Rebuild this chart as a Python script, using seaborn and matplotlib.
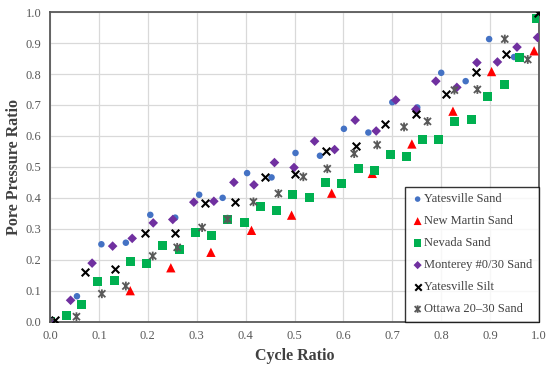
import numpy as np
import matplotlib.pyplot as plt
import seaborn as sns
from matplotlib.path import Path

# Yatesville Sand
ys_x = [0.0, 0.055, 0.105, 0.155, 0.205, 0.256, 0.305, 0.353, 0.403, 0.453,
        0.502, 0.552, 0.601, 0.651, 0.70, 0.751, 0.80, 0.85, 0.898, 0.949]
ys_y = [0.0, 0.082, 0.25, 0.255, 0.345, 0.336, 0.41, 0.40, 0.48, 0.466,
        0.545, 0.536, 0.623, 0.611, 0.709, 0.692, 0.804, 0.777, 0.913, 0.855]

# New Martin Sand
nm_x = [0.0, 0.164, 0.247, 0.329, 0.412, 0.494, 0.576, 0.659, 0.74, 0.824, 0.903, 0.99]
nm_y = [0.0, 0.10, 0.174, 0.224, 0.295, 0.344, 0.415, 0.479, 0.574, 0.68, 0.808, 0.875]

# Nevada Sand
nv_x = [0.0, 0.033, 0.064, 0.097, 0.131, 0.165, 0.198, 0.230, 0.264, 0.297, 0.330,
        0.363, 0.397, 0.431, 0.464, 0.496, 0.530, 0.563, 0.596, 0.63, 0.663,
        0.697, 0.728, 0.761, 0.795, 0.828, 0.862, 0.895, 0.929, 0.96, 0.995]
nv_y = [0.0, 0.021, 0.055, 0.131, 0.134, 0.195, 0.189, 0.245, 0.233, 0.289, 0.278,
        0.331, 0.320, 0.373, 0.358, 0.412, 0.40, 0.45, 0.445, 0.495, 0.487,
        0.54, 0.535, 0.587, 0.59, 0.647, 0.654, 0.726, 0.767, 0.852, 0.98]

# Monterey #0/30 Sand
mo_x = [0.0, 0.042, 0.086, 0.128, 0.168, 0.211, 0.251, 0.294, 0.335, 0.376, 0.417,
        0.459, 0.499, 0.541, 0.582, 0.624, 0.667, 0.707, 0.748, 0.789, 0.832,
        0.873, 0.915, 0.955, 0.997]
mo_y = [0.0, 0.069, 0.189, 0.244, 0.269, 0.319, 0.330, 0.386, 0.389, 0.45, 0.442,
        0.514, 0.498, 0.583, 0.556, 0.651, 0.616, 0.716, 0.686, 0.777, 0.757,
        0.837, 0.839, 0.887, 0.918]

# Yatesville Silt
si_x = [0.01, 0.071, 0.132, 0.194, 0.255, 0.317, 0.379, 0.44, 0.501, 0.564,
        0.625, 0.686, 0.748, 0.81, 0.872, 0.933, 0.997]
si_y = [0.005, 0.159, 0.17, 0.285, 0.287, 0.382, 0.385, 0.466, 0.476, 0.551,
        0.566, 0.638, 0.671, 0.737, 0.806, 0.864, 0.998]

# Ottawa 20-30 Sand
ot_x = [0.0, 0.054, 0.106, 0.155, 0.21, 0.26, 0.311, 0.363, 0.416, 0.467,
        0.518, 0.567, 0.622, 0.669, 0.724, 0.772, 0.827, 0.874, 0.93, 0.977]
ot_y = [0.0, 0.016, 0.09, 0.115, 0.212, 0.24, 0.304, 0.331, 0.387, 0.414,
        0.468, 0.494, 0.543, 0.571, 0.629, 0.647, 0.748, 0.75, 0.913, 0.847]

# asterisk like excel's star marker: vertical bar plus an x
star = Path([(0, -1), (0, 1), (-0.8, -0.8), (0.8, 0.8), (-0.8, 0.8), (0.8, -0.8)],
            [Path.MOVETO, Path.LINETO, Path.MOVETO, Path.LINETO, Path.MOVETO, Path.LINETO])

sns.set_style("white")
plt.rcParams['font.family'] = ['Liberation Serif', 'DejaVu Serif']

fig = plt.figure(figsize=(5.5, 3.68), dpi=100)
ax = fig.add_axes([0.091, 0.126, 0.889, 0.841])

sns.scatterplot(x=ys_x, y=ys_y, ax=ax, marker='o', s=22, color='#4472C4',
                edgecolor='none', label='Yatesville Sand', zorder=3)
sns.scatterplot(x=nm_x, y=nm_y, ax=ax, marker='^', s=45, color='#FF0000',
                edgecolor='none', label='New Martin Sand', zorder=3)
sns.scatterplot(x=nv_x, y=nv_y, ax=ax, marker='s', s=42, color='#00B050',
                edgecolor='none', label='Nevada Sand', zorder=3)
sns.scatterplot(x=mo_x, y=mo_y, ax=ax, marker='D', s=24, color='#7030A0',
                edgecolor='none', label='Monterey #0/30 Sand', zorder=3)
sns.scatterplot(x=si_x, y=si_y, ax=ax, marker='x', s=30, color='black',
                linewidth=1.5, label='Yatesville Silt', zorder=3)
sns.scatterplot(x=ot_x, y=ot_y, ax=ax, marker=star, s=40, facecolor='none',
                edgecolor='#595959', linewidth=1.3, label='Ottawa 20\u201330 Sand', zorder=3)

ax.set_xlim(0, 1)
ax.set_ylim(0, 1)
ax.set_xticks(np.arange(0, 1.01, 0.1))
ax.set_yticks(np.arange(0, 1.01, 0.1))
ax.set_xticklabels([f"{v:.1f}" for v in np.arange(0, 1.01, 0.1)])
ax.set_yticklabels([f"{v:.1f}" for v in np.arange(0, 1.01, 0.1)])
ax.tick_params(labelsize=9, colors='#595959', length=0, pad=6)
ax.grid(True, color='#d9d9d9', linewidth=0.9)
ax.set_axisbelow(True)
for s in ax.spines.values():
    s.set_color('#595959')
    s.set_linewidth(1.3)
    s.set_visible(True)

ax.set_xlabel('Cycle Ratio', fontsize=11.5, fontweight='bold', color='#404040', labelpad=4)
ax.set_ylabel('Pore Pressure Ratio', fontsize=11.5, fontweight='bold', color='#404040', labelpad=3)

leg = ax.legend(loc='lower right', borderaxespad=0, fontsize=9, frameon=True,
                fancybox=False, edgecolor='black', labelspacing=0.8,
                handletextpad=0.05, handlelength=1.0, borderpad=0.5, markerscale=0.85)
leg.get_frame().set_linewidth(1.0)
for t in leg.get_texts():
    t.set_color('#404040')

fig.savefig('out.png', dpi=100)
